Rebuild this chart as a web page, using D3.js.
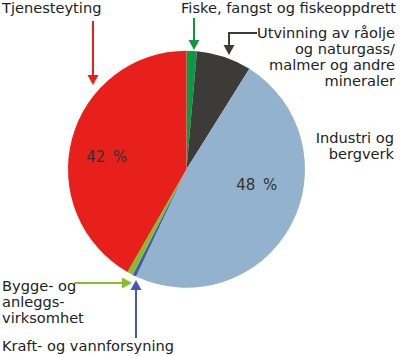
<!DOCTYPE html>
<html><head><meta charset="utf-8">
<script src="https://cdn.jsdelivr.net/npm/d3@7/dist/d3.min.js"></script>
<style>
html,body{margin:0;padding:0;background:#fff;}
svg{display:block;}
text{font-family:"DejaVu Sans",Verdana,sans-serif;}
</style></head>
<body>
<svg id="chart" width="400" height="356"></svg>
<script>
// ---- data ----
const categories = ["Fiske, fangst og fiskeoppdrett",
  "Utvinning av råolje og naturgass/ malmer og andre mineraler",
  "Industri og bergverk", "Kraft- og vannforsyning",
  "Bygge- og anleggsvirksomhet", "Tjenesteyting"];
const values = [1.4, 7.5, 48.1, 0.5, 0.8, 41.7];
const valueLabels = ["", "", "48 %", "", "", "42 %"];
const colors = ["#0d9a45", "#3d3b38", "#93b2cd", "#4458b4", "#86bf25", "#e8201b"];
const labelLines = [
  ["Fiske, fangst og fiskeoppdrett"],
  ["Utvinning av råolje", "og naturgass/", "malmer og andre", "mineraler"],
  ["Industri og", "bergverk"],
  ["Kraft- og vannforsyning"],
  ["Bygge- og", "anleggs-", "virksomhet"],
  ["Tjenesteyting"]
];
const arrowColors = ["#12973f", "#3d3b38", null, "#4458b4", "#86bf25", "#e8201b"];

// ---- layout ----
const cx = 186.5, cy = 169.3, R = 118.5;
const labelLayout = [
  {x: 181, y: 13, anchor: "start"},
  {x: 395, y: 38, anchor: "end"},
  {x: 394, y: 143, anchor: "end"},
  {x: 2, y: 351, anchor: "start"},
  {x: 2, y: 291, anchor: "start"},
  {x: 2, y: 13, anchor: "start"}
];
const lineH = 16;
const arrowPaths = [
  [[194, 18], [194, 50]],
  [[257, 33], [229, 33], [229, 55]],
  null,
  [[136, 338], [136, 280]],
  [[74, 283], [132, 283]],
  [[93, 21], [93, 85]]
];
const valueLabelPos = [null, null, {a: 102.6, r: 0.607}, null, null, {a: 279, r: 0.682}];

const svg = d3.select("#chart");
const pie = d3.pie().value(d => d).sort(null).startAngle(0).endAngle(2 * Math.PI);
const arc = d3.arc().innerRadius(0).outerRadius(R);
const arcs = pie(values);

const g = svg.append("g").attr("transform", `translate(${cx},${cy})`);
g.selectAll("path.slice").data(arcs).enter().append("path")
  .attr("class", "slice")
  .attr("d", arc)
  .attr("fill", (d, i) => colors[i]);

// value labels
arcs.forEach((d, i) => {
  if (!valueLabels[i]) return;
  const p = valueLabelPos[i];
  const a = p.a * Math.PI / 180, r = p.r * R;
  g.append("text")
    .attr("x", r * Math.sin(a)).attr("y", -r * Math.cos(a))
    .attr("text-anchor", "middle").attr("dominant-baseline", "central")
    .attr("font-size", 15).attr("word-spacing", 3).attr("fill", "#333")
    .text(valueLabels[i]);
});

// category labels
labelLines.forEach((lines, i) => {
  const L = labelLayout[i];
  const t = svg.append("text").attr("font-size", 14.6).attr("fill", "#222")
    .attr("text-anchor", L.anchor);
  lines.forEach((ln, k) => {
    t.append("tspan").attr("x", L.x).attr("y", L.y + k * lineH).text(ln);
  });
});

// arrows
const line = d3.line();
arrowPaths.forEach((pts, i) => {
  if (!pts) return;
  const col = arrowColors[i];
  const n = pts.length;
  const tip = pts[n - 1], prev = pts[n - 2];
  const dx = tip[0] - prev[0], dy = tip[1] - prev[1];
  const len = Math.hypot(dx, dy), ux = dx / len, uy = dy / len;
  const hl = 10, hw = 5.5;
  const base = [tip[0] - ux * hl, tip[1] - uy * hl];
  const shaft = pts.slice(0, n - 1).concat([base]);
  svg.append("path").attr("d", line(shaft)).attr("fill", "none")
    .attr("stroke", col).attr("stroke-width", 2);
  const head = [tip, [base[0] - uy * hw, base[1] + ux * hw], [base[0] + uy * hw, base[1] - ux * hw]];
  svg.append("path").attr("d", line(head) + "Z").attr("fill", col);
});
</script>
</body></html>
